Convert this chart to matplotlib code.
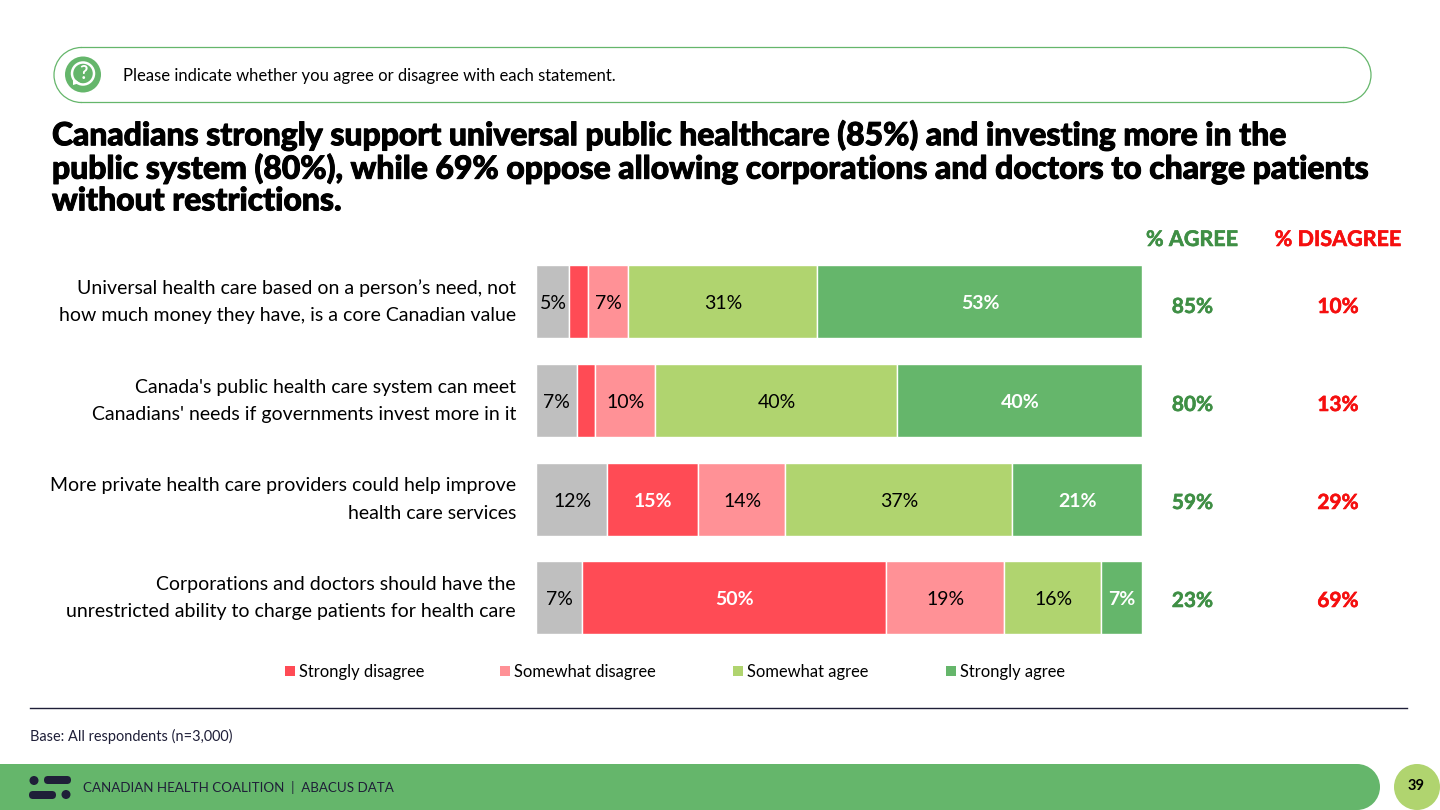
import matplotlib
matplotlib.use('Agg')
import matplotlib.pyplot as plt
import matplotlib.patheffects as pe
from matplotlib.patches import FancyBboxPatch, Circle, Rectangle, Polygon, Arc

plt.rcParams['font.family'] = ['Lato', 'DejaVu Sans']

# colours
GREY = '#bfbfbf'
RED = '#ff4b55'
PINK = '#ff9196'
LGREEN = '#b0d46f'
GREEN = '#65b66b'
DARK = '#1f1f38'
AGREE = '#3f8f45'
DISAGREE = '#f50f0f'

statements = [
    'Universal health care based on a person\u2019s need, not\nhow much money they have, is a core Canadian value',
    "Canada's public health care system can meet\nCanadians' needs if governments invest more in it",
    'More private health care providers could help improve\nhealth care services',
    'Corporations and doctors should have the\nunrestricted ability to charge patients for health care',
]
series_names = ['Unsure', 'Strongly disagree', 'Somewhat disagree', 'Somewhat agree', 'Strongly agree']
unsure = [5.4, 6.7, 11.7, 7.6]
strongly_disagree = [3.1, 3.0, 15.0, 50.2]
somewhat_disagree = [6.7, 9.9, 14.4, 19.5]
somewhat_agree = [31.2, 40.0, 37.5, 15.9]
strongly_agree = [53.6, 40.4, 21.4, 6.8]
# printed labels, None where the chart prints nothing
unsure_lab = ['5%', '7%', '12%', '7%']
sd_lab = [None, None, '15%', '50%']
swd_lab = ['7%', '10%', '14%', '19%']
swa_lab = ['31%', '40%', '37%', '16%']
sa_lab = ['53%', '40%', '21%', '7%']
pct_agree = ['85%', '80%', '59%', '23%']
pct_disagree = ['10%', '13%', '29%', '69%']

title = ('Canadians strongly support universal public healthcare (85%) and investing more in the\n'
         'public system (80%), while 69% oppose allowing corporations and doctors to charge patients\n'
         'without restrictions.')

fig = plt.figure(figsize=(14.4, 8.1), dpi=100)

# background axes works in pixels of the slide
bg = fig.add_axes([0, 0, 1, 1])
bg.set_xlim(0, 1440)
bg.set_ylim(810, 0)
bg.axis('off')


def heavy(w, c='black'):
    return [pe.withStroke(linewidth=w, foreground=c)]


# question pill
bg.add_patch(Arc((81.5, 75), 55, 55, theta1=90, theta2=270, ec=GREEN, lw=0.9, snap=False))
bg.add_patch(Arc((1343.5, 75), 55, 55, theta1=270, theta2=90, ec=GREEN, lw=0.9, snap=False))
bg.plot([81.5, 1343.5], [47.5, 47.5], color=GREEN, lw=0.9, snap=False)
bg.plot([81.5, 1343.5], [102.5, 102.5], color=GREEN, lw=0.9, snap=False)
bg.add_patch(Circle((83, 74.5), 18, fc=GREEN, ec='none'))
bg.add_patch(Circle((83, 73.5), 11, fc='none', ec='white', lw=1.8))
bg.add_patch(Polygon([[73, 78], [73, 85], [80, 83]], fc='white', ec='none'))
bg.text(83, 73.5, '?', color='white', fontsize=13, fontweight='bold', ha='center', va='center')
bg.text(123, 75.5, 'Please indicate whether you agree or disagree with each statement.',
        fontsize=12, color='black', va='center')

bg.text(52, 167.5, title, fontsize=22.94, fontweight='black', color='black', va='center', linespacing=1.1,
        path_effects=heavy(0.7))

bg.text(1192, 239.5, '% AGREE', color=AGREE, fontsize=15.5, fontweight='bold', ha='center', va='center',
        path_effects=heavy(0.4, AGREE))
bg.text(1338, 239.5, '% DISAGREE', color=DISAGREE, fontsize=15.5, fontweight='bold', ha='center', va='center',
        path_effects=heavy(0.4, DISAGREE))

# chart
ax = fig.add_axes([536 / 1440, 1 - 647.33 / 810, 606 / 1440, 394.67 / 810])
ax.set_xlim(0, 100)
ax.set_ylim(3.5, -0.5)
ax.axis('off')
y = range(len(statements))
values = [unsure, strongly_disagree, somewhat_disagree, somewhat_agree, strongly_agree]
labels = [unsure_lab, sd_lab, swd_lab, swa_lab, sa_lab]
colors = [GREY, RED, PINK, LGREEN, GREEN]
text_colors = ['black', 'white', 'black', 'black', 'white']
left = [0, 0, 0, 0]
for vals, labs, c, tc, name in zip(values, labels, colors, text_colors, series_names):
    ax.barh(y, vals, left=left, height=73 / 98.67, color=c, edgecolor='white', linewidth=1, label=name)
    for i in y:
        if labs[i]:
            ax.text(left[i] + vals[i] / 2 + 0.1, i + 0.02, labs[i], color=tc, fontsize=14,
                    fontweight='bold' if tc == 'white' else 'normal', ha='center', va='center')
    left = [a + b for a, b in zip(left, vals)]

row_y = [301.5, 401, 499.5, 598]
pct_y = [307, 405, 503, 601]
for i in y:
    bg.text(516, row_y[i], statements[i], fontsize=14, ha='right', va='center', linespacing=1.73, color='black')
    bg.text(1192.5, pct_y[i], pct_agree[i], color=AGREE, fontsize=15, fontweight='bold',
            ha='center', va='center', path_effects=heavy(0.4, AGREE))
    bg.text(1338, pct_y[i], pct_disagree[i], color=DISAGREE, fontsize=15, fontweight='bold',
            ha='center', va='center', path_effects=heavy(0.4, DISAGREE))

# legend, unsure has no entry
leg_x = [285, 500, 733, 946]
for x, name, c in zip(leg_x, series_names[1:], colors[1:]):
    bg.add_patch(Rectangle((x, 666), 10, 10, fc=c, ec='none'))
    bg.text(x + 14.3, 672, name, fontsize=11.9, va='center', color='black')

# footer
bg.plot([30, 1407], [708, 708], color=DARK, lw=1)
bg.text(30, 736, 'Base: All respondents (n=3,000)', fontsize=10.45, color=DARK, va='center')
bg.add_patch(Rectangle((0, 764), 1357, 46, fc=GREEN, ec='none'))
bg.add_patch(Circle((1357, 787), 23, fc=GREEN, ec='none'))
bg.add_patch(Circle((34, 780.5), 4.5, fc=DARK, ec='none'))
bg.add_patch(FancyBboxPatch((44, 776), 27, 8, boxstyle='round,pad=0,rounding_size=4', fc=DARK, ec='none'))
bg.add_patch(FancyBboxPatch((29, 791), 27, 8, boxstyle='round,pad=0,rounding_size=4', fc=DARK, ec='none'))
bg.add_patch(Circle((66, 794.5), 4.5, fc=DARK, ec='none'))
bg.text(83, 788, 'CANADIAN HEALTH COALITION  |  ABACUS DATA', fontsize=9.6, color=DARK, va='center')
bg.add_patch(Circle((1417, 787), 23, fc=LGREEN, ec='none'))
bg.text(1416, 786.5, '39', fontsize=10.5, fontweight='bold', color='black', ha='center', va='center')

fig.savefig('out.png', dpi=100)
